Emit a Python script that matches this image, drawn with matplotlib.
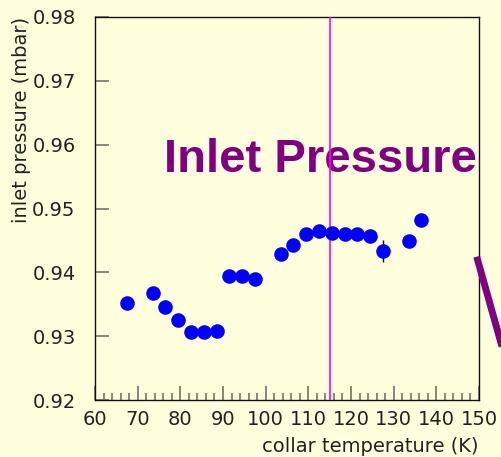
import matplotlib
matplotlib.use("Agg")
import matplotlib.pyplot as plt
from matplotlib.lines import Line2D

# Collar temperature (K) and measured inlet pressure (mbar)
temperature = [67.5, 73.5, 76.5, 79.5, 82.5, 85.5, 88.5, 91.5, 94.5, 97.5,
               103.5, 106.5, 109.5, 112.5, 115.5, 118.5, 121.5, 124.5, 127.5,
               133.5, 136.5]
pressure = [0.9352, 0.9367, 0.9346, 0.9326, 0.9307, 0.9307, 0.9308, 0.9394,
            0.9395, 0.9390, 0.9429, 0.9443, 0.9460, 0.9465, 0.9461, 0.9460,
            0.9460, 0.9457, 0.9433, 0.9449, 0.9482]
pressure_err = [0.0, 0.0, 0.0, 0.0, 0.0, 0.0, 0.0, 0.0, 0.0, 0.0, 0.0, 0.0,
                0.0, 0.0, 0.0, 0.0, 0.0, 0.0, 0.0017, 0.0, 0.0]
marker_temp = 115.0

W, H = 502, 457
bg = "#FFFFDD"
txt = "#222222"
tick_col = "#7F7F70"

plt.rcParams["font.family"] = ["DejaVu Sans"]

fig = plt.figure(figsize=(W / 100, H / 100), dpi=100, facecolor=bg)
ax = fig.add_axes([95 / W, (H - 400) / H, 384 / W, 383 / H])
ax.set_facecolor(bg)

ax.set_xlim(60, 150)
ax.set_ylim(0.92, 0.98)

ax.errorbar(temperature, pressure, yerr=pressure_err, fmt="o", color="#0000FF",
            ecolor="black", elinewidth=1.0, capsize=0, markersize=10.5,
            markeredgewidth=0, zorder=4)

ax.axvline(marker_temp, color="#FF00FF", lw=1.2, zorder=3)

ax.set_xticks(range(60, 151, 10))
ax.set_xticks(range(60, 151, 2), minor=True)
ax.set_yticks([0.92, 0.93, 0.94, 0.95, 0.96, 0.97, 0.98])
ax.set_yticklabels(["0.92", "0.93", "0.94", "0.95", "0.96", "0.97", "0.98"])

ax.tick_params(axis="x", which="major", direction="in", length=10, width=1.3,
               color=tick_col, labelsize=14, labelcolor=txt, pad=7,
               top=False)
ax.tick_params(axis="x", which="minor", direction="in", length=5, width=1.3,
               color=tick_col, top=False)
ax.tick_params(axis="y", which="major", direction="in", length=10, width=1.3,
               color=tick_col, labelsize=14, labelcolor=txt, pad=14,
               right=False)

for s in ax.spines.values():
    s.set_color("#111111")
    s.set_linewidth(1.0)

ax.set_xlabel("collar temperature (K)", loc="right", fontsize=14, color=txt)
ax.xaxis.set_label_coords(1.0, -(447 - 400) / 383)
ax.xaxis.label.set_verticalalignment("center")

ax.set_ylabel("inlet pressure (mbar)", loc="top", fontsize=14, color=txt)
ax.yaxis.set_label_coords(-(95 - 22) / 384, 1.0)
ax.yaxis.label.set_verticalalignment("center")

# Title drawn inside the axes so the marker line stays on top of it
ax.text((164 - 95) / 384, (400 - 172) / 383, "Inlet Pressure",
        transform=ax.transAxes, fontsize=34, fontweight="bold",
        family="Liberation Sans", color="#800080", ha="left",
        va="baseline", zorder=2, clip_on=False)

# Pointer stroke running off the right edge
x0, y0 = 476.7, 256.7
x1, y1 = 520.0, 410.4
fig.add_artist(Line2D([x0 / W, x1 / W], [(H - y0) / H, (H - y1) / H],
                      transform=fig.transFigure, color="#800080", lw=5.0,
                      solid_capstyle="butt", zorder=10))

fig.savefig("out.png", dpi=100, facecolor=bg)
